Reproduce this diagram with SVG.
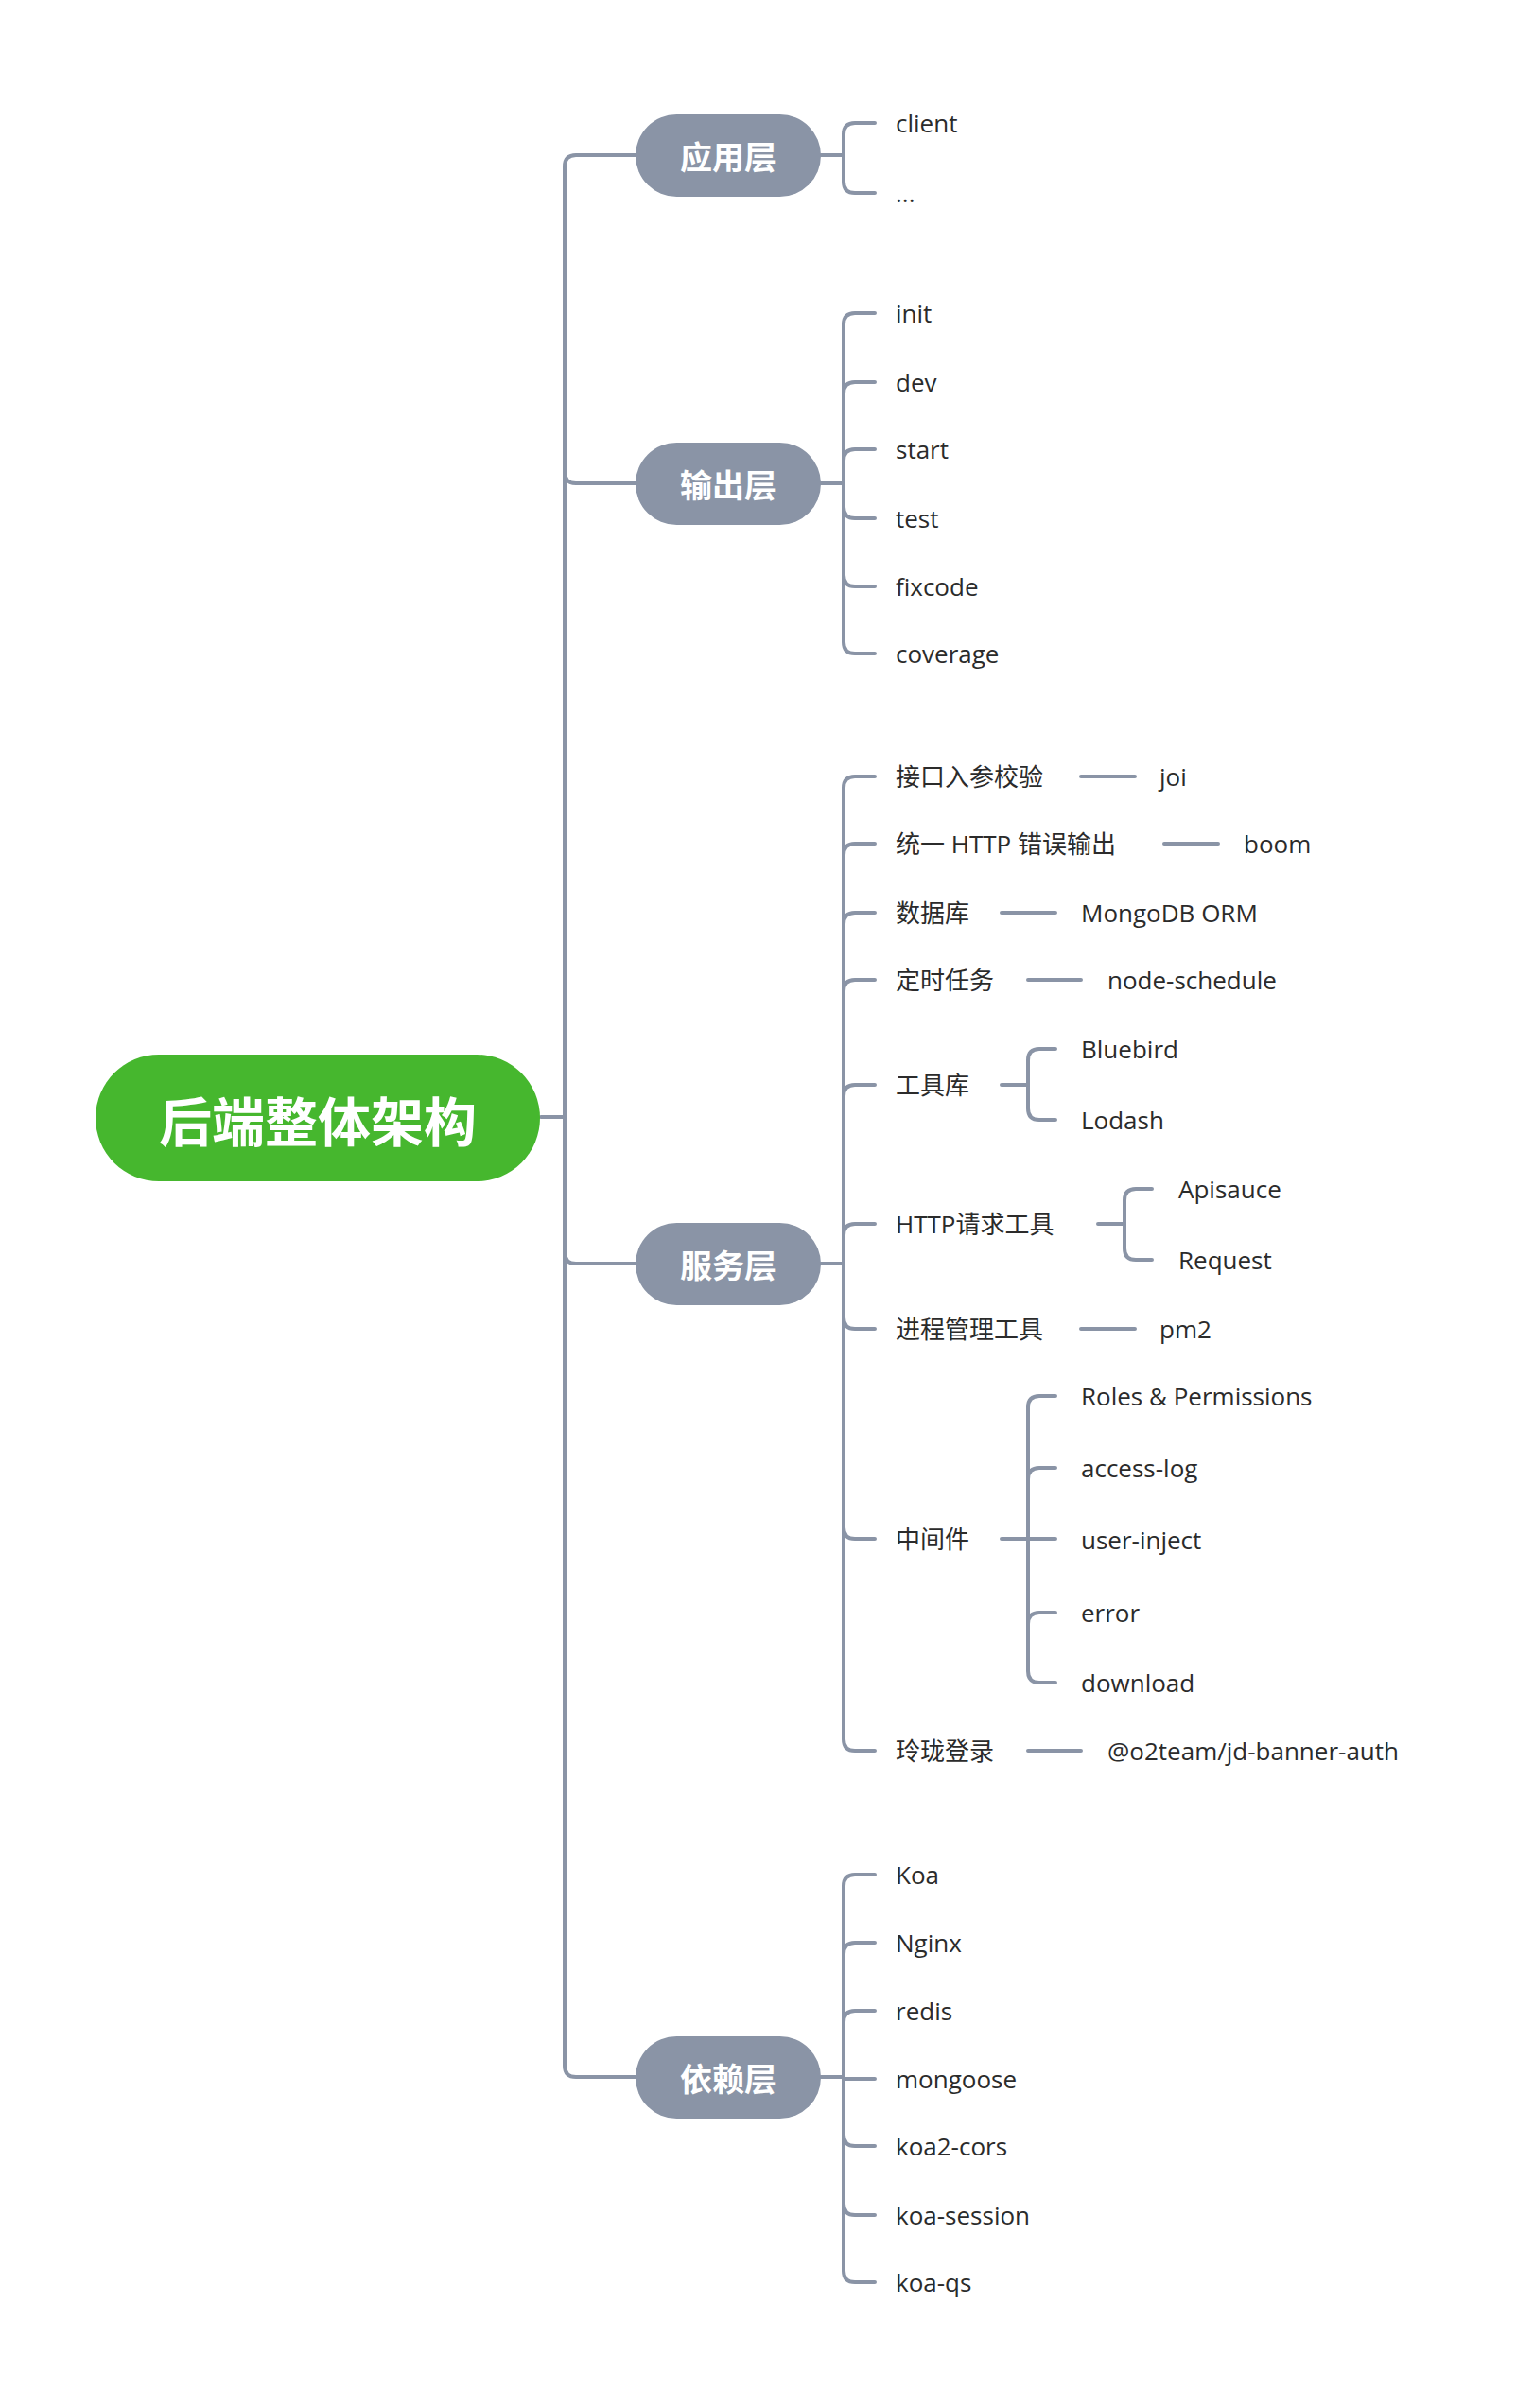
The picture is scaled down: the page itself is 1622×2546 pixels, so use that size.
<svg xmlns="http://www.w3.org/2000/svg" width="1622" height="2546" viewBox="0 0 1622 2546">
<style>
.c{fill:none;stroke:#8A94A6;stroke-width:4;stroke-linecap:round}
.t{font-family:"Open Sans","Noto Sans CJK SC",sans-serif;font-size:26px;fill:#2B2B2B;dominant-baseline:central}
.p{fill:#8A94A6}
.pt{font-family:"Noto Sans CJK SC",sans-serif;font-size:34px;font-weight:bold;fill:#fff;text-anchor:middle;dominant-baseline:central}
</style>
<rect width="1622" height="2546" fill="#fff"/>
<g id="connectors">
<path class="c" d="M572 1181H597M673 164H609Q597 164 597 176V2184Q597 2196 609 2196H673M597 499Q597 511 609 511H673M597 1324Q597 1336 609 1336H673"/>
<path class="c" d="M868 164H892M892 142Q892 130 904 130H925M892 192Q892 204 904 204H925M892 142V192"/>
<path class="c" d="M868 511H892M892 343V679M892 343Q892 331 904 331H925M892 416Q892 404 904 404H925M892 487Q892 475 904 475H925M892 536Q892 548 904 548H925M892 608Q892 620 904 620H925M892 679Q892 691 904 691H925"/>
<path class="c" d="M868 1336H892M892 833V1839M892 833Q892 821 904 821H925M892 904Q892 892 904 892H925M892 977Q892 965 904 965H925M892 1048Q892 1036 904 1036H925M892 1159Q892 1147 904 1147H925M892 1306Q892 1294 904 1294H925M892 1393Q892 1405 904 1405H925M892 1615Q892 1627 904 1627H925M892 1839Q892 1851 904 1851H925"/>
<path class="c" d="M1143 821H1200M1231 892H1288M1059 965H1116M1087 1036H1143M1143 1405H1200M1087 1851H1143"/>
<path class="c" d="M1059 1147H1087M1087 1121V1172M1087 1121Q1087 1109 1099 1109H1116M1087 1172Q1087 1184 1099 1184H1116"/>
<path class="c" d="M1161 1294H1189M1189 1269V1320M1189 1269Q1189 1257 1201 1257H1218M1189 1320Q1189 1332 1201 1332H1218"/>
<path class="c" d="M1059 1627H1116M1087 1488V1767M1087 1488Q1087 1476 1099 1476H1116M1087 1564Q1087 1552 1099 1552H1116M1087 1717Q1087 1705 1099 1705H1116M1087 1767Q1087 1779 1099 1779H1116"/>
<path class="c" d="M868 2196H892M892 1994V2401M892 1994Q892 1982 904 1982H925M892 2066Q892 2054 904 2054H925M892 2138Q892 2126 904 2126H925M892 2198H925M892 2257Q892 2269 904 2269H925M892 2330Q892 2342 904 2342H925M892 2401Q892 2413 904 2413H925"/>
</g>
<g id="root"><rect x="101" y="1115" width="470" height="134" rx="67" fill="#46B72E"/><text x="336" y="1182" class="pt" style="font-size:56px">后端整体架构</text></g>
<g id="app"><rect class="p" x="672" y="121" width="196" height="87" rx="43.5"/><text class="pt" x="770" y="164">应用层</text></g>
<g id="out"><rect class="p" x="672" y="468" width="196" height="87" rx="43.5"/><text class="pt" x="770" y="511">输出层</text></g>
<g id="svc"><rect class="p" x="672" y="1293" width="196" height="87" rx="43.5"/><text class="pt" x="770" y="1336">服务层</text></g>
<g id="dep"><rect class="p" x="672" y="2153" width="196" height="87" rx="43.5"/><text class="pt" x="770" y="2196">依赖层</text></g>
<g id="leaves">
<text class="t" x="947" y="130">client</text><text class="t" x="947" y="204">...</text>
<text class="t" x="947" y="331">init</text><text class="t" x="947" y="404">dev</text><text class="t" x="947" y="475">start</text><text class="t" x="947" y="548">test</text><text class="t" x="947" y="620">fixcode</text><text class="t" x="947" y="691">coverage</text>
<text class="t" x="947" y="821">接口入参校验</text><text class="t" x="1226" y="821">joi</text>
<text class="t" x="947" y="892">统一 HTTP 错误输出</text><text class="t" x="1315" y="892">boom</text>
<text class="t" x="947" y="965">数据库</text><text class="t" x="1143" y="965">MongoDB ORM</text>
<text class="t" x="947" y="1036">定时任务</text><text class="t" x="1171" y="1036">node-schedule</text>
<text class="t" x="947" y="1147">工具库</text><text class="t" x="1143" y="1109">Bluebird</text><text class="t" x="1143" y="1184">Lodash</text>
<text class="t" x="947" y="1294">HTTP请求工具</text><text class="t" x="1246" y="1257">Apisauce</text><text class="t" x="1246" y="1332">Request</text>
<text class="t" x="947" y="1405">进程管理工具</text><text class="t" x="1226" y="1405">pm2</text>
<text class="t" x="947" y="1627">中间件</text><text class="t" x="1143" y="1476">Roles &amp; Permissions</text><text class="t" x="1143" y="1552">access-log</text><text class="t" x="1143" y="1628">user-inject</text><text class="t" x="1143" y="1705">error</text><text class="t" x="1143" y="1779">download</text>
<text class="t" x="947" y="1851">玲珑登录</text><text class="t" x="1171" y="1851">@o2team/jd-banner-auth</text>
<text class="t" x="947" y="1982">Koa</text><text class="t" x="947" y="2054">Nginx</text><text class="t" x="947" y="2126">redis</text><text class="t" x="947" y="2198">mongoose</text><text class="t" x="947" y="2269">koa2-cors</text><text class="t" x="947" y="2342">koa-session</text><text class="t" x="947" y="2413">koa-qs</text>
</g>
</svg>
